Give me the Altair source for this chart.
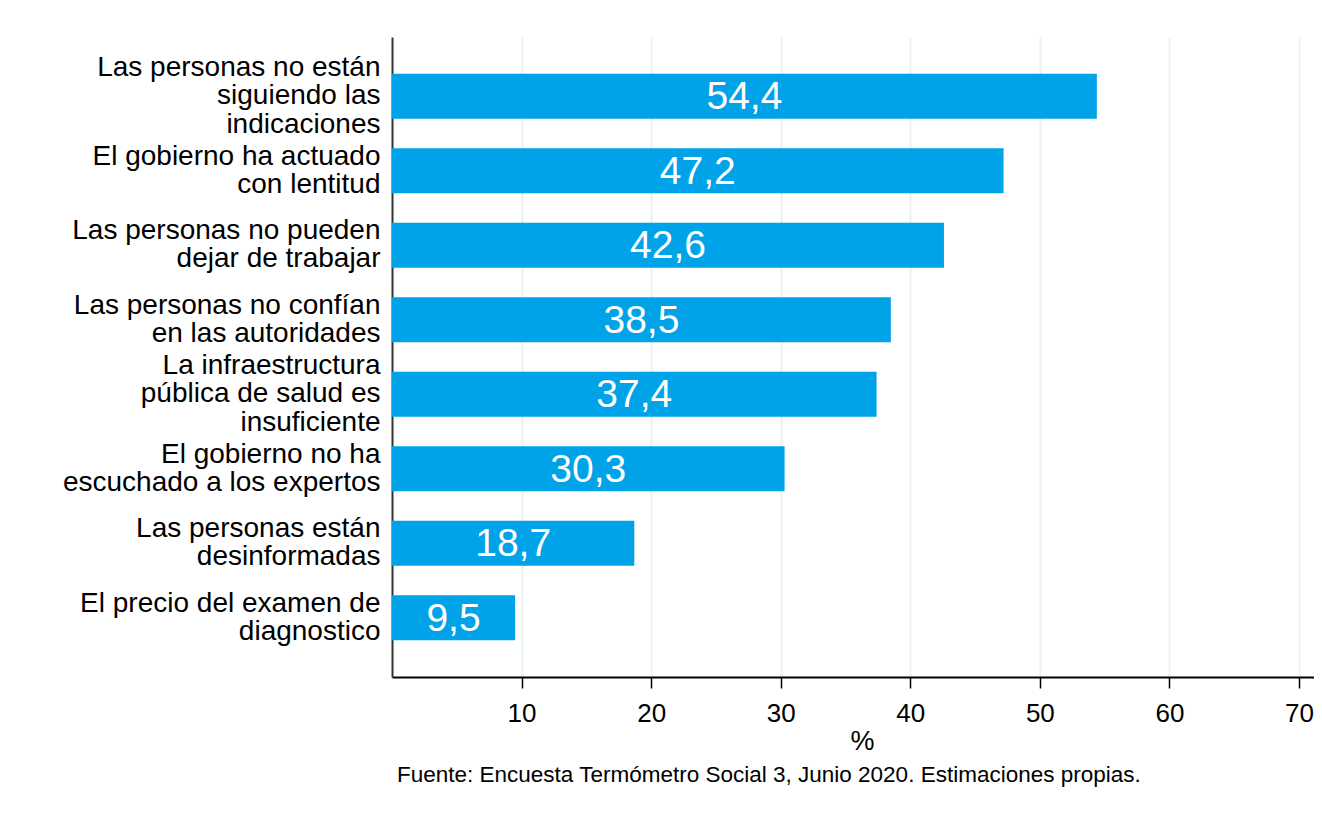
import altair as alt
import pandas as pd

categories = [
    "Las personas no están|siguiendo las|indicaciones",
    "El gobierno ha actuado|con lentitud",
    "Las personas no pueden|dejar de trabajar",
    "Las personas no confían|en las autoridades",
    "La infraestructura|pública de salud es|insuficiente",
    "El gobierno no ha|escuchado a los expertos",
    "Las personas están|desinformadas",
    "El precio del examen de|diagnostico",
]
values = [54.4, 47.2, 42.6, 38.5, 37.4, 30.3, 18.7, 9.5]
tick_values = [10, 20, 30, 40, 50, 60, 70]
footnote = "Fuente: Encuesta Termómetro Social 3, Junio 2020. Estimaciones propias."

df = pd.DataFrame({
    "cat": categories,
    "val": values,
    "lab": [f"{v:.1f}".replace(".", ",") for v in values],
})

FONT = "Liberation Sans"
LH = 28.4

y_axis = alt.Axis(
    title=None,
    labelExpr="split(datum.label, '|')",
    labelFontSize=28,
    labelLineHeight=LH,
    labelPadding=12,
    labelColor="black",
    labelFont=FONT,
    labelLimit=0,
    labelOffset={
        "condition": [
            {"test": "length(split(datum.value, '|')) == 3", "value": -LH},
            {"test": "length(split(datum.value, '|')) == 2", "value": -LH / 2},
        ],
        "value": 0,
    },
    ticks=False,
    domainColor="#333333",
    domainWidth=2,
    grid=False,
)

x_axis = alt.Axis(
    values=tick_values,
    title="%",
    titleFont=FONT,
    titleFontSize=27,
    titleFontWeight="normal",
    titleColor="black",
    titlePadding=2,
    titleX=470,
    labelFont=FONT,
    labelFontSize=26,
    labelColor="black",
    labelPadding=12,
    tickSize=11,
    tickColor="black",
    tickWidth=1.5,
    domainColor="black",
    domainWidth=2,
    grid=True,
    gridColor="#EAF2F3",
    gridWidth=2,
)

x_scale = alt.Scale(domain=[0, 71.16], nice=False, zero=True)
y_scale = alt.Scale(paddingInner=0.396, paddingOuter=0.493)

bars = alt.Chart(df).mark_bar(color="#00A2E8").encode(
    y=alt.Y("cat:N", sort=categories, scale=y_scale, axis=y_axis),
    x=alt.X("val:Q", scale=x_scale, axis=x_axis),
)

text = alt.Chart(df).transform_calculate(mid="datum.val / 2").mark_text(
    color="white", fontSize=39, font=FONT, align="center", baseline="middle", dy=1
).encode(
    y=alt.Y("cat:N", sort=categories, scale=y_scale, axis=y_axis),
    x=alt.X("mid:Q", scale=x_scale, axis=x_axis),
    text="lab:N",
)

chart = (
    alt.layer(bars, text)
    .properties(
        width=922,
        height=640,
        padding={"left": 384, "top": 29, "right": 0, "bottom": 130},
        autosize=alt.AutoSizeParams(type="none"),
        view=alt.ViewBackground(stroke="transparent", strokeWidth=0),
        title=alt.TitleParams(
            text=footnote,
            orient="bottom",
            anchor="start",
            frame="group",
            dx=5,
            offset=10,
            font=FONT,
            fontSize=22.5,
            fontWeight="normal",
            color="black",
        ),
    )
    .configure_view(stroke="transparent", strokeWidth=0)
    .configure(background="white")
)

chart.save("out.html", embed_options={"renderer": "svg", "actions": False})
